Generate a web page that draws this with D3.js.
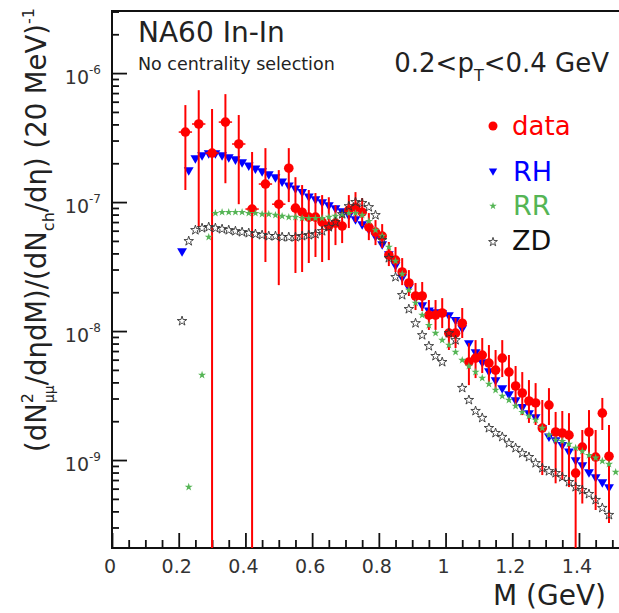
<!DOCTYPE html>
<html>
<head>
<meta charset="utf-8">
<script src="https://cdn.jsdelivr.net/npm/d3@7"></script>
<style>
body { margin: 0; background: #fff; }
text { font-family: "DejaVu Sans", "Liberation Sans", Arial, sans-serif; }
</style>
</head>
<body>
<script>
// NA60 In-In, 0.2<pT<0.4 GeV, mass spectra (20 MeV bins)

var dataM = [0.22,0.26,0.30,0.34,0.38,0.42,0.46,0.50,
  0.53,0.55,0.57,0.59,0.61,0.63,0.65,0.67,0.69,0.71,0.73,0.75,0.77,0.79,0.81,0.83,0.85,0.87,0.89,0.91,
  0.93,0.95,0.97,0.99,1.01,1.03,1.05,1.07,1.09,1.11,1.13,1.15,1.17,1.19,1.21,1.23,1.25,1.27,1.29,1.31,
  1.33,1.35,1.37,1.39,1.41,1.43,1.45,1.47,1.49];
var dataVal = [3.49e-7,4.03e-7,2.40e-7,4.17e-7,2.82e-7,8.83e-8,1.38e-7,9.63e-8,
  1.83e-7,8.97e-8,8.35e-8,7.64e-8,7.64e-8,6.99e-8,6.52e-8,6.87e-8,6.52e-8,8.66e-8,9.13e-8,8.35e-8,6.40e-8,5.85e-8,5.45e-8,3.88e-8,3.55e-8,2.87e-8,2.36e-8,1.87e-8,
  1.87e-8,1.33e-8,1.33e-8,1.38e-8,9.63e-9,9.63e-9,1.15e-8,5.75e-9,6.17e-9,6.52e-9,5.65e-9,4.98e-9,6.17e-9,4.81e-9,3.75e-9,3.31e-9,2.87e-9,2.77e-9,1.77e-9,2.67e-9,
  1.65e-9,1.62e-9,1.56e-9,7.92e-10,1.26e-9,1.65e-9,1.055e-9,2.31e-9,1.07e-9];
var dataHi = [5.65e-7,7.37e-7,5.26e-7,6.87e-7,4.73e-7,2.44e-7,2.62e-7,1.77e-7,
  2.62e-7,1.56e-7,1.355e-7,1.24e-7,1.175e-7,1.133e-7,1.09e-7,9.48e-8,8.37e-8,1.133e-7,1.195e-7,1.074e-7,8.22e-8,7.25e-8,6.75e-8,4.90e-8,4.48e-8,3.68e-8,2.97e-8,2.36e-8,
  2.40e-8,1.74e-8,1.74e-8,1.80e-8,1.33e-8,1.26e-8,1.51e-8,8.07e-9,8.51e-9,8.83e-9,7.79e-9,7.13e-9,8.51e-9,6.52e-9,5.36e-9,4.81e-9,4.17e-9,3.95e-9,2.92e-9,3.61e-9,
  2.36e-9,2.40e-9,2.31e-9,1.24e-9,1.71e-9,2.44e-9,1.71e-9,3.03e-9,1.87e-9];
var dataLo = [1.24e-7,6.40e-8,1e-12,1.40e-7,9.63e-8,1e-12,3.43e-8,2.27e-8,
  1.0e-7,2.82e-8,2.87e-8,3.37e-8,3.75e-8,3.43e-8,3.55e-8,4.64e-8,4.81e-8,6.29e-8,7.0e-8,6.52e-8,5.07e-8,4.64e-8,4.40e-8,3.19e-8,2.87e-8,2.27e-8,1.87e-8,1.455e-8,
  1.43e-8,1.02e-8,1.02e-8,1.055e-8,7.13e-9,7.38e-9,8.83e-9,3.81e-9,4.32e-9,4.72e-9,4.03e-9,3.49e-9,4.40e-9,3.37e-9,2.62e-9,2.23e-9,1.94e-9,1.87e-9,7.65e-10,1.87e-9,
  6.6e-10,7.0e-10,6.17e-10,1e-12,4.6e-10,8.4e-10,4.1e-10,1.71e-9,3.25e-10];
// half bin width: 40 MeV bins below 0.52 GeV, 20 MeV above
var dataXErr = dataM.map(function(m) { return m < 0.52 ? 0.02 : 0.01; });

var modelM = [0.21,0.23,0.25,0.27,0.29,0.31,0.33,0.35,0.37,0.39,0.41,0.43,0.45,0.47,0.49,0.51,0.53,0.55,0.57,0.59,0.61,0.63,
  0.65,0.67,0.69,0.71,0.73,0.75,0.77,0.79,0.81,0.83,0.85,0.87,0.89,0.91,0.93,0.95,0.97,0.99,1.01,1.03,1.05,
  1.07,1.09,1.11,1.13,1.15,1.17,1.19,1.21,1.23,1.25,1.27,1.29,1.31,1.33,1.35,1.37,1.39,1.41,1.43,1.45,1.47,1.49];

var rhVal = [4.17e-8,1.77e-7,2.19e-7,2.31e-7,2.40e-7,2.40e-7,2.31e-7,2.23e-7,2.15e-7,2.04e-7,1.93e-7,1.83e-7,1.74e-7,1.65e-7,1.56e-7,1.45e-7,1.35e-7,1.28e-7,1.20e-7,1.11e-7,1.055e-7,1.00e-7,
  9.46e-8,8.97e-8,8.50e-8,7.92e-8,7.37e-8,6.75e-8,6.17e-8,5.45e-8,4.73e-8,3.95e-8,3.25e-8,2.62e-8,2.19e-8,1.83e-8,1.59e-8,1.45e-8,1.40e-8,1.38e-8,1.33e-8,1.22e-8,1.055e-8,
  8.06e-9,6.87e-9,5.75e-9,4.90e-9,4.17e-9,3.62e-9,3.25e-9,2.92e-9,2.58e-9,2.31e-9,2.15e-9,1.77e-9,1.53e-9,1.43e-9,1.31e-9,1.17e-9,1.00e-9,9.13e-10,8.06e-10,7.37e-10,6.75e-10,6.17e-10];

var zdVal = [1.195e-8,4.98e-8,6.06e-8,6.28e-8,6.40e-8,6.28e-8,6.17e-8,6.06e-8,5.95e-8,5.85e-8,5.75e-8,5.65e-8,5.55e-8,5.45e-8,5.45e-8,5.35e-8,5.35e-8,5.35e-8,5.45e-8,5.55e-8,5.65e-8,5.95e-8,
  6.40e-8,6.99e-8,8.06e-8,9.29e-8,1.00e-7,9.82e-8,9.13e-8,7.92e-8,5.07e-8,3.68e-8,2.62e-8,1.90e-8,1.48e-8,1.15e-8,9.29e-9,7.64e-9,6.40e-9,5.75e-9,9.63e-9,8.50e-9,3.62e-9,
  2.92e-9,2.40e-9,2.12e-9,1.77e-9,1.62e-9,1.51e-9,1.35e-9,1.24e-9,1.13e-9,1.055e-9,9.46e-10,8.66e-10,8.20e-10,7.92e-10,7.37e-10,6.75e-10,6.17e-10,5.85e-10,5.45e-10,4.90e-10,4.25e-10,3.75e-10];

var rrM = [0.23,0.27,0.29,0.31,0.33,0.35,0.37,0.39,0.41,0.43,0.45,0.47,0.49,0.51,0.53,0.55,0.57,0.59,0.61,0.63,
  0.65,0.67,0.69,0.71,0.73,0.75,0.77,0.79,0.81,0.83,0.85,0.87,0.89,0.91,0.93,0.95,0.97,0.99,1.01,1.03,1.05,
  1.07,1.09,1.11,1.13,1.15,1.17,1.19,1.21,1.23,1.25,1.27,1.29,1.31,1.33,1.35,1.37,1.39,1.41,1.43,1.45,1.47,1.49,1.51];
var rrVal = [6.17e-10,4.56e-9,5.35e-8,8.20e-8,8.35e-8,8.35e-8,8.35e-8,8.35e-8,8.20e-8,8.20e-8,8.06e-8,8.06e-8,7.92e-8,7.78e-8,7.64e-8,7.64e-8,7.50e-8,7.50e-8,7.50e-8,7.50e-8,
  7.64e-8,7.78e-8,7.92e-8,8.20e-8,8.20e-8,7.92e-8,7.11e-8,6.06e-8,5.45e-8,4.48e-8,3.49e-8,2.77e-8,2.08e-8,1.65e-8,1.33e-8,1.11e-8,9.63e-9,8.50e-9,7.78e-9,6.87e-9,5.95e-9,
  5.35e-9,4.81e-9,4.32e-9,3.88e-9,3.49e-9,3.13e-9,2.92e-9,2.62e-9,2.35e-9,2.19e-9,2.04e-9,1.77e-9,1.56e-9,1.43e-9,1.40e-9,1.33e-9,1.24e-9,1.17e-9,1.09e-9,1.04e-9,9.82e-10,9.29e-10,8.06e-10];

var xMajor = [0, 0.2, 0.4, 0.6, 0.8, 1.0, 1.2, 1.4];
var xMinor = [0.05,0.1,0.15,0.25,0.3,0.35,0.45,0.5,0.55,0.65,0.7,0.75,0.85,0.9,0.95,1.05,1.1,1.15,1.25,1.3,1.35,1.45,1.5];
var xLabels = ["0", "0.2", "0.4", "0.6", "0.8", "1", "1.2", "1.4"];
var yMajor = [1e-9, 1e-8, 1e-7, 1e-6];
var yExp = ["-9", "-8", "-7", "-6"];

var width = 619, height = 613;
var frame = {left: 112, top: 11, bottom: 548, right: 619};

var x = d3.scaleLinear().domain([0, 1.52]).range([frame.left, frame.right]);
var y = d3.scaleLog().domain([2.08e-10, 3.03e-6]).range([frame.bottom, frame.top]);

var yMinor = [];
[-10, -9, -8, -7, -6].forEach(function(e) {
  for (var k = 2; k <= 9; k++) {
    var v = k * Math.pow(10, e);
    if (v > y.domain()[0] && v < y.domain()[1]) yMinor.push(v);
  }
});

var svg = d3.select("body").append("svg")
    .attr("width", width)
    .attr("height", height);

svg.append("defs").append("clipPath").attr("id", "plot")
  .append("rect").attr("x", frame.left).attr("y", frame.top)
  .attr("width", frame.right - frame.left + 10).attr("height", frame.bottom - frame.top);

// axes (ticks point inward)
function styleAxis(g) {
  g.select(".domain").remove();
  g.selectAll("line").attr("stroke", "#111").attr("stroke-width", 1.8);
}
svg.append("g").attr("transform", "translate(" + frame.left + ",0)")
  .call(d3.axisRight(y).tickValues(yMinor).tickSize(7).tickFormat(""))
  .call(styleAxis);
svg.append("g").attr("transform", "translate(" + frame.left + ",0)")
  .call(d3.axisRight(y).tickValues(yMajor).tickSize(15).tickFormat(""))
  .call(styleAxis);
svg.append("g").attr("transform", "translate(0," + frame.bottom + ")")
  .call(d3.axisTop(x).tickValues(xMinor).tickSize(8).tickFormat(""))
  .call(styleAxis);
svg.append("g").attr("transform", "translate(0," + frame.bottom + ")")
  .call(d3.axisTop(x).tickValues(xMajor).tickSize(15).tickFormat(""))
  .call(styleAxis);

// frame
svg.append("rect")
  .attr("x", frame.left).attr("y", frame.top)
  .attr("width", frame.right - frame.left + 10).attr("height", frame.bottom - frame.top)
  .attr("fill", "none").attr("stroke", "#111").attr("stroke-width", 2);

// tick labels
svg.selectAll(".xl").data(xMajor).enter().append("text")
  .attr("x", function(d) { return x(d) - 2; })
  .attr("y", 573)
  .attr("text-anchor", "middle")
  .attr("font-size", 19)
  .attr("fill", "#333")
  .text(function(d, i) { return xLabels[i]; });

var yl = svg.selectAll(".yl").data(yMajor).enter().append("text")
  .attr("x", 101)
  .attr("y", function(d) { return y(d) + 11; })
  .attr("text-anchor", "end")
  .attr("font-size", 19)
  .attr("fill", "#333");
yl.append("tspan").text("10");
yl.append("tspan").attr("dy", -10).attr("font-size", 12).text(function(d, i) { return yExp[i]; });

// axis titles
svg.append("text")
  .attr("x", 606).attr("y", 605)
  .attr("text-anchor", "end")
  .attr("font-size", 28)
  .attr("fill", "#222")
  .text("M (GeV)");

var yt = svg.append("text")
  .attr("transform", "translate(46,230) rotate(-90)")
  .attr("text-anchor", "middle")
  .attr("font-size", 27.5)
  .attr("fill", "#222");
yt.append("tspan").text("(dN");
yt.append("tspan").attr("font-size", 16).attr("dy", -13).text("2");
yt.append("tspan").attr("font-size", 14).attr("dx", -10).attr("dy", 21).text("μμ");
yt.append("tspan").attr("dy", -8).text("/dηdM)/(dN");
yt.append("tspan").attr("font-size", 16).attr("dy", 8).text("ch");
yt.append("tspan").attr("dy", -8).text("/dη) (20 MeV)");
yt.append("tspan").attr("font-size", 16).attr("dy", -12).text("-1");

// labels inside the frame
svg.append("text").attr("x", 138).attr("y", 42)
  .attr("font-size", 28).attr("fill", "#222").text("NA60 In-In");
svg.append("text").attr("x", 138).attr("y", 70)
  .attr("font-size", 17.5).attr("fill", "#222").text("No centrality selection");
var pt = svg.append("text").attr("x", 609).attr("y", 72)
  .attr("text-anchor", "end").attr("font-size", 26).attr("fill", "#222");
pt.append("tspan").text("0.2<p");
pt.append("tspan").attr("font-size", 16).attr("dy", 9).text("T");
pt.append("tspan").attr("dy", -9).text("<0.4 GeV");

var plot = svg.append("g").attr("clip-path", "url(#plot)");

var green = "#55b555";

// RH: blue down triangles
plot.selectAll(".rh").data(modelM).enter().append("path")
  .attr("d", d3.symbol(d3.symbolTriangle, 42))
  .attr("transform", function(d, i) { return "translate(" + x(d) + "," + y(rhVal[i]) + ") rotate(180)"; })
  .attr("fill", "#0000ff");

// data with error bars
var dg = plot.selectAll(".dat").data(dataM).enter().append("g");
dg.append("line")
  .attr("x1", function(d) { return x(d); }).attr("x2", function(d) { return x(d); })
  .attr("y1", function(d, i) { return y(dataHi[i]); })
  .attr("y2", function(d, i) { return Math.min(y(dataLo[i]), frame.bottom + 5); })
  .attr("stroke", "#ff0000").attr("stroke-width", 2);
dg.append("line")
  .attr("x1", function(d, i) { return x(d - dataXErr[i]); })
  .attr("x2", function(d, i) { return x(d + dataXErr[i]); })
  .attr("y1", function(d, i) { return y(dataVal[i]); })
  .attr("y2", function(d, i) { return y(dataVal[i]); })
  .attr("stroke", "#ff0000").attr("stroke-width", 1.5);
dg.append("circle")
  .attr("cx", function(d) { return x(d); })
  .attr("cy", function(d, i) { return y(dataVal[i]); })
  .attr("r", 4.8)
  .attr("fill", "#ff0000");

// RR: small green stars
plot.selectAll(".rr").data(rrM).enter().append("path")
  .attr("d", d3.symbol(d3.symbolStar, 20))
  .attr("transform", function(d, i) { return "translate(" + x(d) + "," + y(rrVal[i]) + ")"; })
  .attr("fill", green);

// ZD: open black stars
plot.selectAll(".zd").data(modelM).enter().append("path")
  .attr("d", d3.symbol(d3.symbolStar, 28))
  .attr("transform", function(d, i) { return "translate(" + x(d) + "," + y(zdVal[i]) + ")"; })
  .attr("fill", "none").attr("stroke", "#333").attr("stroke-width", 0.9);

// legend
var leg = svg.append("g");
leg.append("circle").attr("cx", 493).attr("cy", 126).attr("r", 4.5).attr("fill", "#ff0000");
leg.append("text").attr("x", 512).attr("y", 135).attr("font-size", 26).attr("fill", "#ff0000").text("data");
leg.append("path").attr("d", d3.symbol(d3.symbolTriangle, 30))
  .attr("transform", "translate(493,171) rotate(180)").attr("fill", "#0000ff");
leg.append("text").attr("x", 513).attr("y", 181).attr("font-size", 27).attr("fill", "#0000ff").text("RH");
leg.append("path").attr("d", d3.symbol(d3.symbolStar, 18))
  .attr("transform", "translate(493,206)").attr("fill", green);
leg.append("text").attr("x", 513).attr("y", 215).attr("font-size", 27).attr("fill", green).text("RR");
leg.append("path").attr("d", d3.symbol(d3.symbolStar, 24))
  .attr("transform", "translate(493,242)").attr("fill", "none").attr("stroke", "#333").attr("stroke-width", 0.9);
leg.append("text").attr("x", 512).attr("y", 250).attr("font-size", 27).attr("fill", "#111").text("ZD");
</script>
</body>
</html>
